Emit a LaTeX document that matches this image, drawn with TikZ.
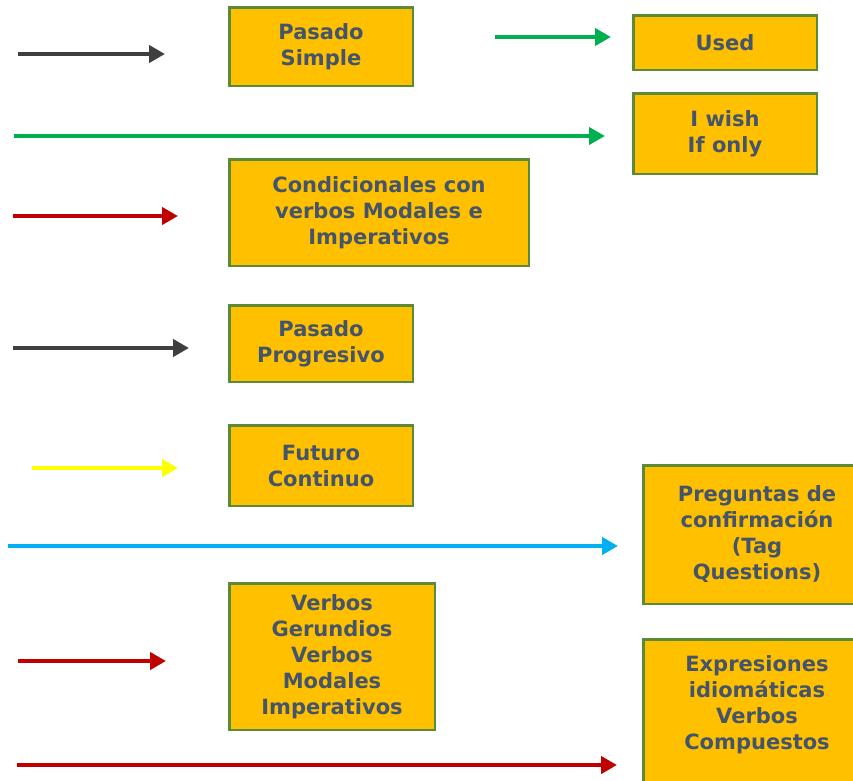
\documentclass[tikz,border=0pt]{standalone}
\usepackage{fontspec}
\setmainfont{DejaVu Sans}
\usepackage{tikz}
\usetikzlibrary{arrows.meta}
\definecolor{color_box}{HTML}{FFC000}
\definecolor{color_border}{HTML}{5A8A3A}
\definecolor{color_text}{HTML}{44546A}
\definecolor{color_dark}{HTML}{3F3F3F}
\definecolor{color_green}{HTML}{00B050}
\definecolor{color_red}{HTML}{C00000}
\definecolor{color_yellow}{HTML}{FFFF00}
\definecolor{color_blue}{HTML}{00B0F0}

\begin{document}
\begin{tikzpicture}[x=1pt, y=-1pt, align=center]
  \tikzset{ % Specifications for style of nodes and arrows:
      base/.style = {rectangle, draw=color_border, line width=2.5pt, fill=color_box, anchor=north west, inner sep=0pt, text=color_text, font=\fontsize{21}{26}\selectfont\bfseries},
      small/.style = {base, minimum width=183.5pt},
      arrow/.style = {line width=4pt, -{Triangle[length=16pt, width=17pt]}},
      dark/.style = {arrow, color_dark},
      green/.style = {arrow, color_green},
      red/.style = {arrow, color_red},
      yellow/.style = {arrow, color_yellow},
      blue/.style = {arrow, color_blue},
  }
  \useasboundingbox (0,0) rectangle (853,780);

  \node (simple) [small, minimum height=78.5pt] at (228,6) {Pasado\\Simple};
  \node (used) [small, minimum height=54.5pt] at (632,14) {Used};
  \node (wish) [small, minimum height=80.5pt] at (632,92) {I wish\\If only};
  \node (cond) [base, minimum width=299.5pt, minimum height=106.5pt] at (228,158) {Condicionales con\\verbos Modales e\\Imperativos};
  \node (progresivo) [small, minimum height=76.5pt] at (228,304) {Pasado\\Progresivo};
  \node (futuro) [small, minimum height=80.5pt] at (228,424) {Futuro\\Continuo};
  \node (tag) [base, minimum width=227.5pt, minimum height=138.5pt] at (642,464) {Preguntas de\\confirmación\\(Tag\\Questions)};
  \node (verbos) [base, minimum width=205.5pt, minimum height=146.5pt] at (228,582) {Verbos\\Gerundios\\Verbos\\Modales\\Imperativos};
  \node (idioms) [base, minimum width=227.5pt, minimum height=153.5pt] at (642,638) {Expresiones\\idiomáticas\\Verbos\\Compuestos\\ };

  \coordinate (s1) at (18,54);   \coordinate (e1) at (165,54);
  \coordinate (s2) at (495,37);  \coordinate (e2) at (611,37);
  \coordinate (s3) at (14,136);  \coordinate (e3) at (605,136);
  \coordinate (s4) at (13,216);  \coordinate (e4) at (178,216);
  \coordinate (s5) at (13,348);  \coordinate (e5) at (189,348);
  \coordinate (s6) at (32,468);  \coordinate (e6) at (178,468);
  \coordinate (s7) at (8,546);   \coordinate (e7) at (618,546);
  \coordinate (s8) at (18,661);  \coordinate (e8) at (166,661);
  \coordinate (s9) at (17,765);  \coordinate (e9) at (617,765);

  \draw[dark] (s1) -- (e1);
  \draw[green] (s2) -- (e2);
  \draw[green] (s3) -- (e3);
  \draw[red] (s4) -- (e4);
  \draw[dark] (s5) -- (e5);
  \draw[yellow] (s6) -- (e6);
  \draw[blue] (s7) -- (e7);
  \draw[red] (s8) -- (e8);
  \draw[red] (s9) -- (e9);
\end{tikzpicture}
\end{document}
